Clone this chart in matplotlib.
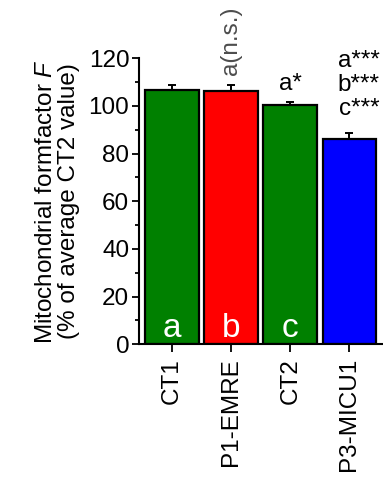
import matplotlib
matplotlib.use("Agg")
import matplotlib.pyplot as plt
from matplotlib.ticker import MultipleLocator

plt.rcParams['font.family'] = ['Liberation Sans', 'DejaVu Sans']
plt.rcParams['mathtext.fontset'] = 'custom'
plt.rcParams['mathtext.it'] = 'Liberation Sans:italic'
plt.rcParams['mathtext.rm'] = 'Liberation Sans'

# Mitochondrial formfactor per cell line (% of mean CT2)
groups = ["CT1", "P1-EMRE", "CT2", "P3-MICU1"]
means = [106.5, 106.3, 100.2, 86.0]
sem = [2.3, 2.3, 1.4, 2.6]
colors = ["#008000", "#ff0000", "#008000", "#0000ff"]
bar_letters = ["a", "b", "c", ""]
p3_stats = ["a***", "b***", "c***"]

FS = 17.5

fig = plt.figure(figsize=(3.83, 4.78), dpi=100)
ax = fig.add_axes([0.363, 0.280, 0.642, 0.598])

x = range(len(groups))
ax.bar(x, means, width=0.91, color=colors, edgecolor="black", linewidth=1.6, zorder=2)
ax.errorbar(x, means, yerr=[[0] * len(sem), sem], fmt="none", ecolor="black",
            elinewidth=1.4, capsize=3, capthick=1.4, zorder=3)

# group letters inside the bars
for i, s in enumerate(bar_letters):
    ax.text(i, 3, s, color="white", fontsize=24, ha="center", va="baseline")

# significance labels above the bars
ax.text(1, 112.8, "a(n.s.)", rotation=90, fontsize=FS, color="#4d4d4d",
        ha="center", va="bottom")
ax.text(2, 106.5, "a*", fontsize=FS, ha="center", va="baseline")
for k, s in enumerate(p3_stats):
    ax.text(3.16, 116.4 - 10.1 * k, s, fontsize=FS, ha="center", va="baseline")

ax.set_xlim(-0.56, 3.6)
ax.set_ylim(0, 120)
ax.set_xticks(list(x))
ax.set_xticklabels(groups, rotation=90, fontsize=FS)
ax.yaxis.set_major_locator(MultipleLocator(20))
ax.yaxis.set_minor_locator(MultipleLocator(10))
ax.tick_params(axis="y", labelsize=FS, width=1.3, length=5, pad=2)
ax.tick_params(axis="y", which="minor", width=1.3, length=3)
ax.tick_params(axis="x", width=1.3, length=6, pad=4)

ax.spines["top"].set_visible(False)
ax.spines["right"].set_visible(False)
ax.spines["left"].set_linewidth(1.5)
ax.spines["bottom"].set_linewidth(1.5)

ax.set_ylabel("Mitochondrial formfactor $F$\n(% of average CT2 value)",
              fontsize=FS, linespacing=1.05, labelpad=6)

fig.savefig("out.png", dpi=100)
